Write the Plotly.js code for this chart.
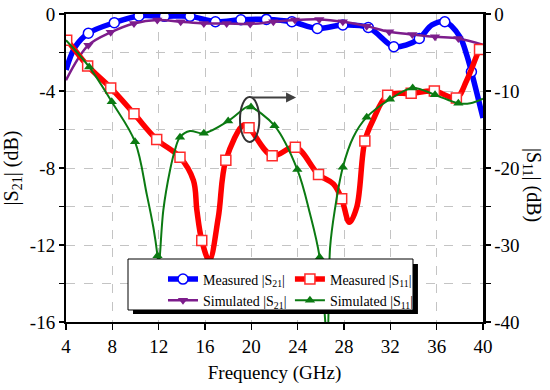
<!DOCTYPE html>
<html><head><meta charset="utf-8">
<script src="https://cdn.plot.ly/plotly-3.0.1.min.js"></script>
<style>body{margin:0;background:#fff}#chart{width:550px;height:390px}</style>
</head><body><div id="chart"></div>
<script>
// ---- Measured |S21| (left axis, dB) ----
const measS21MarkF = [5.93, 8.17, 10.3, 12.5, 14.7, 16.9, 19.1, 21.3, 23.5, 25.7, 27.9, 30.1, 32.3, 34.5, 36.7, 39.0];
const measS21MarkDb = [-1.0, -0.45, -0.1, -0.12, -0.12, -0.4, -0.3, -0.28, -0.4, -0.75, -0.57, -0.7, -1.7, -1.27, -0.4, -3.0];
const measS21ExtraF = [4.0, 4.8, 33.4, 35.6, 38.0, 38.6, 40.0];
const measS21ExtraDb = [-2.9, -1.7, -1.6, -0.57, -1.18, -2.14, -5.4];

// ---- Measured |S11| (right axis, dB) ----
const measS11MarkF = [4.06, 5.87, 7.86, 9.87, 11.83, 13.84, 15.72, 17.8, 19.8, 21.8, 23.8, 25.8, 27.8, 29.8, 31.77, 33.8, 35.8, 37.7, 39.7];
const measS11MarkDb = [-3.4, -6.74, -9.6, -12.94, -16.29, -18.6, -29.4, -19.0, -14.77, -18.4, -17.3, -20.85, -24.0, -16.5, -10.55, -10.3, -10.0, -10.9, -4.6];
const measS11ExtraF = [4.0, 15.0, 15.3, 16.37, 17.15, 19.35, 27.08, 28.46, 29.1, 30.5, 38.6, 40.0];
const measS11ExtraDb = [-3.4, -21.6, -25.5, -32.0, -26.4, -14.4, -22.06, -27.06, -25.1, -13.8, -8.6, -4.0];

// ---- Simulated |S21| (left axis, dB) ----
const simS21MarkF = [5.93, 7.86, 9.87, 11.88, 13.9, 15.9, 17.87, 19.9, 21.9, 23.77, 25.87, 27.9, 29.96, 31.9, 33.9, 35.86, 37.87];
const simS21MarkDb = [-1.62, -0.95, -0.49, -0.31, -0.4, -0.49, -0.49, -0.52, -0.4, -0.31, -0.28, -0.4, -0.63, -0.92, -1.06, -1.18, -1.27];
const simS21ExtraF = [4.0, 40.0];
const simS21ExtraDb = [-3.44, -1.6];

// ---- Simulated |S11| (right axis, dB) ----
const simS11MarkF = [6.0, 7.95, 9.96, 11.9, 13.84, 15.9, 18.0, 19.97, 22.0, 23.97, 25.9, 27.9, 29.96, 31.97, 33.93, 35.86, 37.87];
const simS11MarkDb = [-6.87, -11.4, -16.6, -31.4, -16.0, -15.5, -13.9, -12.07, -14.5, -20.2, -31.6, -19.9, -13.4, -11.07, -9.6, -10.5, -11.6];
const simS11ExtraF = [4.0, 10.97, 11.54, 12.0, 12.4, 12.98, 13.4, 14.7, 19.7, 25.07, 26.55, 26.8, 27.2, 28.8, 38.9, 40.0];
const simS11ExtraDb = [-3.4, -23.4, -27.7, -33.0, -25.5, -20.3, -17.7, -15.2, -12.0, -25.97, -42.0, -30.3, -25.5, -16.0, -11.6, -11.0];

// ---- Axis ticks ----
const freqTicks = [4, 8, 12, 16, 20, 24, 28, 32, 36, 40];
const s21Ticks = [0, -4, -8, -12, -16];
const s21TickText = ['0', '-4', '-8', '-12', '-16'];
const s21Minor = [-2, -6, -10, -14];
const s11Ticks = [0, -10, -20, -30, -40];
const s11TickText = ['0', '-10', '-20', '-30', '-40'];
const s11Minor = [-5, -15, -25, -35];

function merge(mf, mv, ef, ev) {
  const pts = mf.map((f, i) => [f, mv[i]]).concat(ef.map((f, i) => [f, ev[i]]));
  pts.sort((a, b) => a[0] - b[0]);
  return {x: pts.map(p => p[0]), y: pts.map(p => p[1])};
}

const FONT = 'Liberation Serif';
const series = [
  {name: 'Measured |S<sub>21</sub>|', legend: 'legend', mf: measS21MarkF, mv: measS21MarkDb, ef: measS21ExtraF, ev: measS21ExtraDb,
   yaxis: 'y', color: '#0000ff', lw: 5.5, marker: {symbol: 'circle', size: 10, color: '#ffffff', line: {color: '#0000ff', width: 1.5}}},
  {name: 'Measured |S<sub>11</sub>|', legend: 'legend2', mf: measS11MarkF, mv: measS11MarkDb, ef: measS11ExtraF, ev: measS11ExtraDb,
   yaxis: 'y2', color: '#ff0000', lw: 5.5, marker: {symbol: 'square', size: 10, color: '#ffffff', line: {color: '#ff2a2a', width: 1.5}}},
  {name: 'Simulated |S<sub>21</sub>|', legend: 'legend', mf: simS21MarkF, mv: simS21MarkDb, ef: simS21ExtraF, ev: simS21ExtraDb,
   yaxis: 'y', color: '#7d1d8c', lw: 2.5, marker: {symbol: 'triangle-down', size: 9, color: '#7d1d8c'}},
  {name: 'Simulated |S<sub>11</sub>|', legend: 'legend2', mf: simS11MarkF, mv: simS11MarkDb, ef: simS11ExtraF, ev: simS11ExtraDb,
   yaxis: 'y2', color: '#0b7a12', lw: 2, marker: {symbol: 'triangle-up', size: 9, color: '#0b7a12'}}
];

const traces = [];
series.forEach(s => {
  const c = merge(s.mf, s.mv, s.ef, s.ev);
  traces.push({x: c.x, y: c.y, yaxis: s.yaxis, mode: 'lines', showlegend: false, hoverinfo: 'skip',
    line: {color: s.color, width: s.lw, shape: 'spline', smoothing: 1}});
  traces.push({x: s.mf, y: s.mv, yaxis: s.yaxis, mode: 'markers', showlegend: false, marker: s.marker});
});
series.forEach(s => {
  traces.push({x: [null], y: [null], yaxis: s.yaxis, mode: 'lines+markers', name: s.name, showlegend: true,
    legend: s.legend, line: {color: s.color, width: s.lw}, marker: s.marker});
});

const gridC = '#c4c4c4';
const legendBase = {
  orientation: 'v', yanchor: 'top', xanchor: 'left', y: 0.19,
  bgcolor: 'rgba(0,0,0,0)', borderwidth: 0,
  font: {family: FONT, size: 14, color: '#000'}, tracegroupgap: 0
};
const layout = {
  width: 550, height: 390,
  margin: {l: 66, r: 67, t: 14, b: 68},
  paper_bgcolor: '#ffffff', plot_bgcolor: '#ffffff',
  font: {family: FONT, color: '#000000', size: 19},
  showlegend: true,
  xaxis: {
    range: [4, 40], tickvals: freqTicks, ticktext: freqTicks.map(String),
    showline: true, linecolor: '#000', linewidth: 2, mirror: true,
    ticks: 'outside', ticklen: 6, tickwidth: 1.5, tickcolor: '#000',
    showgrid: true, gridcolor: gridC, griddash: 'dash', gridwidth: 1, zeroline: false,
    tickfont: {family: FONT, size: 19},
    title: {text: 'Frequency (GHz)', font: {family: FONT, size: 19}, standoff: 10}
  },
  yaxis: {
    range: [-16, 0], tickvals: s21Ticks, ticktext: s21TickText,
    showline: true, linecolor: '#000', linewidth: 2, mirror: false,
    ticks: 'outside', ticklen: 5, tickwidth: 1.5, tickcolor: '#000',
    showgrid: true, gridcolor: gridC, griddash: 'dash', gridwidth: 1, zeroline: false,
    minor: {tickvals: s21Minor, ticks: 'outside', ticklen: 5, tickwidth: 1.5, tickcolor: '#000', showgrid: true, gridcolor: gridC, griddash: 'dash', gridwidth: 1},
    tickfont: {family: FONT, size: 19},
    title: {text: '|S<sub>21</sub>| (dB)', font: {family: FONT, size: 20}, standoff: 12}
  },
  yaxis2: {
    overlaying: 'y', side: 'right', anchor: 'x',
    range: [-40, 0], tickvals: s11Ticks, ticktext: s11TickText,
    showline: true, linecolor: '#000', linewidth: 2.5,
    ticks: 'outside', ticklen: 5, tickwidth: 1.5, tickcolor: '#000',
    showgrid: false, zeroline: false,
    minor: {tickvals: s11Minor, ticks: 'outside', ticklen: 5, tickwidth: 1.5, tickcolor: '#000', showgrid: false},
    tickfont: {family: FONT, size: 19}
  },
  legend: Object.assign({}, legendBase, {x: 0.2326}),
  legend2: Object.assign({}, legendBase, {x: 0.537}),
  shapes: [
    {type: 'rect', xref: 'paper', yref: 'paper', x0: 0.1607, x1: 0.844, y0: 0.026, y1: 0.188,
     fillcolor: '#000', line: {width: 0}, layer: 'above'},
    {type: 'rect', xref: 'paper', yref: 'paper', x0: 0.1487, x1: 0.8321, y0: 0.039, y1: 0.2045,
     fillcolor: '#fff', line: {width: 1, color: '#000'}, layer: 'above'},
    {type: 'circle', xref: 'x', yref: 'y', x0: 19.02, x1: 20.69, y0: -6.65, y1: -4.31,
     line: {color: '#333333', width: 2}, layer: 'above'}
  ],
  annotations: [
    {x: 23.86, y: -4.34, xref: 'x', yref: 'y', ax: 19.9, ay: -4.34, axref: 'x', ayref: 'y',
     showarrow: true, arrowhead: 2, arrowsize: 1, arrowwidth: 2, arrowcolor: '#404040', text: ''},
    {x: 1.1175, y: 0.445, xref: 'paper', yref: 'paper', xanchor: 'center', yanchor: 'middle',
     text: '|S<sub>11</sub>| (dB)', textangle: 90, showarrow: false, font: {family: FONT, size: 20}}
  ]
};

Plotly.newPlot('chart', traces, layout, {displayModeBar: false, staticPlot: true});
</script>
</body></html>
